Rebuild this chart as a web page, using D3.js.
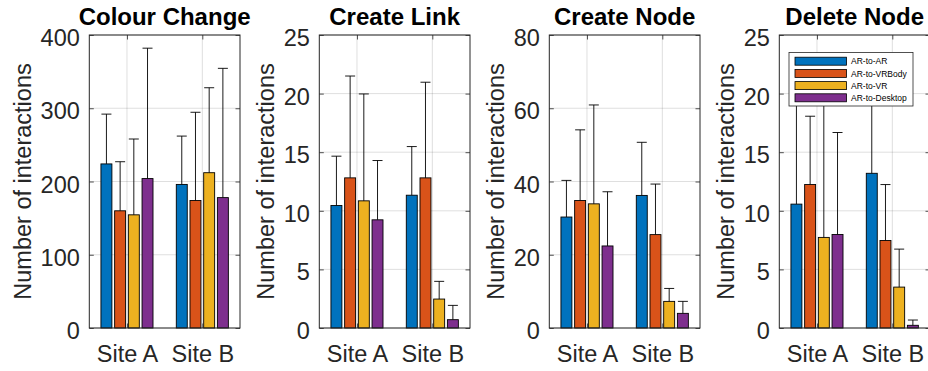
<!DOCTYPE html>
<html>
<head>
<meta charset="utf-8">
<script src="https://cdn.jsdelivr.net/npm/d3@7/dist/d3.min.js"></script>
<style>
  html, body { margin: 0; padding: 0; background: #fff; }
  svg { display: block; font-family: "Liberation Sans", Arial, Helvetica, sans-serif; }
</style>
</head>
<body>
<svg id="chart" width="928" height="371"></svg>
<script>
// ---------------- data ----------------
const titles = ["Colour Change", "Create Link", "Create Node", "Delete Node"];
const categories = ["Site A", "Site B"];
const seriesNames = ["AR-to-AR", "AR-to-VRBody", "AR-to-VR", "AR-to-Desktop"];
const seriesColors = ["#0072BD", "#D95319", "#EDB120", "#7E2F8E"];
const yLabel = "Number of interactions";

const yMax = [400, 25, 80, 25];
const yTicksColourChange = [0, 100, 200, 300, 400];
const yTicksCreateLink = [0, 5, 10, 15, 20, 25];
const yTicksCreateNode = [0, 20, 40, 60, 80];
const yTicksDeleteNode = [0, 5, 10, 15, 20, 25];

// means [category][series]
const meanColourChange = [[224, 160, 154.5, 204], [196, 174, 212, 178]];
const errColourChange  = [[68, 67, 103.5, 178], [66, 120.5, 116, 176.5]];

const meanCreateLink = [[10.45, 12.81, 10.85, 9.23], [11.33, 12.81, 2.47, 0.71]];
const errCreateLink  = [[4.21, 8.69, 9.12, 5.06], [4.15, 8.16, 1.51, 1.22]];

const meanCreateNode = [[30.3, 34.8, 33.9, 22.4], [36.2, 25.5, 7.27, 4.0]];
const errCreateNode  = [[10.0, 19.3, 27.0, 14.8], [14.5, 13.8, 3.53, 3.27]];

const meanDeleteNode = [[10.57, 12.24, 7.73, 7.98], [13.2, 7.47, 3.49, 0.23]];
const errDeleteNode  = [[10.4, 5.83, 12.3, 8.7], [6.8, 4.77, 3.24, 0.45]];

const panels = [
  { title: titles[0], max: yMax[0], ticks: yTicksColourChange, mean: meanColourChange, err: errColourChange },
  { title: titles[1], max: yMax[1], ticks: yTicksCreateLink,   mean: meanCreateLink,   err: errCreateLink },
  { title: titles[2], max: yMax[2], ticks: yTicksCreateNode,   mean: meanCreateNode,   err: errCreateNode },
  { title: titles[3], max: yMax[3], ticks: yTicksDeleteNode,   mean: meanDeleteNode,   err: errDeleteNode }
];

// ---------------- layout ----------------
const svg = d3.select("#chart");
const axisColor = "#262626";
const fontSize = 23.5;
const plotTop = 35, plotBottom = 328, pw = 150.7;
const lefts = [89.3, 319.3, 549.3, 779.3];
const nbars = seriesNames.length;
const groupWidth = Math.min(0.8, nbars / (nbars + 1.5));
const barWidthU = 0.8 * groupWidth / nbars;

panels.forEach((p, pi) => {
  const left = lefts[pi];
  const x = d3.scaleLinear().domain([0.5, 2.5]).range([left, left + pw]);
  const y = d3.scaleLinear().domain([0, p.max]).range([plotBottom, plotTop]);
  const g = svg.append("g");

  // grid
  g.append("g").selectAll("line").data(p.ticks).join("line")
    .attr("x1", left).attr("x2", left + pw)
    .attr("y1", d => y(d)).attr("y2", d => y(d))
    .attr("stroke", axisColor).attr("stroke-opacity", 0.15).attr("stroke-width", 1);
  g.append("g").selectAll("line").data([1, 2]).join("line")
    .attr("x1", d => x(d)).attr("x2", d => x(d))
    .attr("y1", plotTop).attr("y2", plotBottom)
    .attr("stroke", axisColor).attr("stroke-opacity", 0.15).attr("stroke-width", 1);

  // bars & error bars
  const items = [];
  categories.forEach((c, ci) => {
    seriesNames.forEach((s, si) => {
      const cx = (ci + 1) - groupWidth / 2 + (2 * si + 1) * groupWidth / (2 * nbars);
      items.push({ cx, m: p.mean[ci][si], e: p.err[ci][si], si });
    });
  });
  g.append("g").selectAll("rect").data(items).join("rect")
    .attr("x", d => x(d.cx - barWidthU / 2))
    .attr("width", d => x(d.cx + barWidthU / 2) - x(d.cx - barWidthU / 2))
    .attr("y", d => y(d.m))
    .attr("height", d => y(0) - y(d.m))
    .attr("fill", d => seriesColors[d.si])
    .attr("stroke", "#000").attr("stroke-width", 0.9);
  const eb = g.append("g").attr("stroke", "#000").attr("stroke-width", 0.9);
  eb.append("g").selectAll("line").data(items).join("line")
    .attr("x1", d => x(d.cx)).attr("x2", d => x(d.cx))
    .attr("y1", d => y(d.m)).attr("y2", d => y(d.m + d.e));
  eb.append("g").selectAll("line").data(items).join("line")
    .attr("x1", d => x(d.cx) - 5).attr("x2", d => x(d.cx) + 5)
    .attr("y1", d => y(d.m + d.e)).attr("y2", d => y(d.m + d.e));

  // axes
  const styleAxis = (sel) => {
    sel.select(".domain").remove();
    sel.selectAll(".tick line").attr("stroke", axisColor).attr("stroke-width", 0.8);
    sel.selectAll(".tick text").attr("fill", axisColor).attr("font-size", fontSize)
      .attr("font-family", "Liberation Sans, Arial, sans-serif");
  };
  const yAxisG = g.append("g").attr("transform", `translate(${left},0)`)
    .call(d3.axisLeft(y).tickValues(p.ticks).tickFormat(d3.format("d"))
      .tickSizeInner(-4.5).tickSizeOuter(0).tickPadding(9.5))
    .call(styleAxis);
  yAxisG.selectAll(".tick text").attr("dy", "0.45em");
  g.append("g").attr("transform", `translate(${left + pw},0)`)
    .call(d3.axisRight(y).tickValues(p.ticks).tickFormat("")
      .tickSizeInner(-4.5).tickSizeOuter(0))
    .call(styleAxis);
  g.append("g").attr("transform", `translate(0,${plotBottom})`)
    .call(d3.axisBottom(x).tickValues([1, 2]).tickFormat(d => categories[d - 1])
      .tickSizeInner(-4.5).tickSizeOuter(0).tickPadding(17.5))
    .call(styleAxis);
  g.append("g").attr("transform", `translate(0,${plotTop})`)
    .call(d3.axisTop(x).tickValues([1, 2]).tickFormat("")
      .tickSizeInner(-4.5).tickSizeOuter(0))
    .call(styleAxis);

  // box
  g.append("rect").attr("x", left).attr("y", plotTop).attr("width", pw).attr("height", plotBottom - plotTop)
    .attr("fill", "none").attr("stroke", axisColor).attr("stroke-width", 1);

  // y label, positioned left of widest tick label
  let maxW = 0;
  yAxisG.selectAll(".tick text").each(function () { maxW = Math.max(maxW, this.getBBox().width); });
  const lx = left - 9.5 - maxW - 9.5;
  g.append("text")
    .attr("transform", `translate(${lx},${(plotTop + plotBottom) / 2}) rotate(-90)`)
    .attr("text-anchor", "middle")
    .attr("font-size", fontSize).attr("fill", axisColor)
    .text(yLabel);

  // title
  g.append("text")
    .attr("x", left + pw / 2).attr("y", 25)
    .attr("text-anchor", "middle")
    .attr("font-size", 24).attr("font-weight", "bold").attr("fill", "#000")
    .text(p.title);

  // legend in last panel
  if (pi === panels.length - 1) {
    const lg = g.append("g");
    lg.append("rect").attr("x", 789).attr("y", 52.5).attr("width", 124).attr("height", 53.5)
      .attr("fill", "#fff").attr("stroke", axisColor).attr("stroke-width", 0.8);
    seriesNames.forEach((s, si) => {
      const cy = 61.2 + si * 12.2;
      lg.append("rect").attr("x", 795).attr("y", cy - 4).attr("width", 51.5).attr("height", 8)
        .attr("fill", seriesColors[si]).attr("stroke", "#000").attr("stroke-width", 0.8);
      lg.append("text").attr("x", 851).attr("y", cy + 3.1)
        .attr("font-size", 8.5).attr("fill", "#000").text(s);
    });
  }
});
</script>
</body>
</html>
